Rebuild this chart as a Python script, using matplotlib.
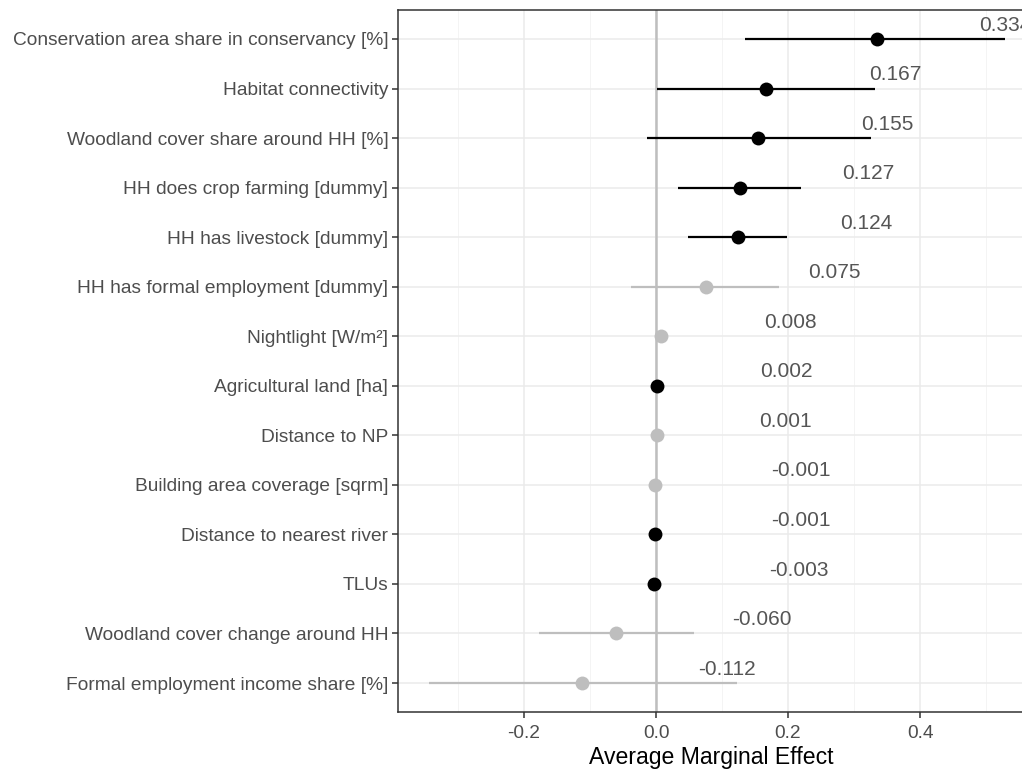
import matplotlib
matplotlib.use("Agg")
import matplotlib.pyplot as plt
from matplotlib.ticker import MultipleLocator

variables = [
    "Conservation area share in conservancy [%]",
    "Habitat connectivity",
    "Woodland cover share around HH [%]",
    "HH does crop farming [dummy]",
    "HH has livestock [dummy]",
    "HH has formal employment [dummy]",
    "Nightlight [W/m\u00b2]",
    "Agricultural land [ha]",
    "Distance to NP",
    "Building area coverage [sqrm]",
    "Distance to nearest river",
    "TLUs",
    "Woodland cover change around HH",
    "Formal employment income share [%]",
]
estimates = [0.334, 0.167, 0.155, 0.127, 0.124, 0.075, 0.008, 0.002, 0.001,
             -0.001, -0.001, -0.003, -0.060, -0.112]
ci_low = [0.135, 0.001, -0.014, 0.033, 0.048, -0.038, 0.006, 0.001, 0.000,
          -0.002, -0.002, -0.004, -0.177, -0.344]
ci_high = [0.529, 0.332, 0.325, 0.220, 0.198, 0.187, 0.010, 0.003, 0.002,
           0.000, 0.000, -0.002, 0.058, 0.123]
significant = [True, True, True, True, True, False, False, True, False,
               False, True, True, False, False]
labels = ["0.334", "0.167", "0.155", "0.127", "0.124", "0.075", "0.008", "0.002",
          "0.001", "-0.001", "-0.001", "-0.003", "-0.060", "-0.112"]

plt.rcParams['font.family'] = ['Liberation Sans', 'DejaVu Sans']

W, H = 1022, 769
fig = plt.figure(figsize=(W / 100, H / 100), dpi=100)
ax = fig.add_axes([398 / W, (H - 712) / H, (1024 - 398) / W, (712 - 10) / H])

n = len(variables)
ypos = [n - 1 - i for i in range(n)]

ax.set_xlim(-0.391, -0.391 + (1024 - 398) / 660.0)
ax.set_ylim(-0.585, n - 1 + 0.585)

ax.xaxis.set_major_locator(MultipleLocator(0.2))
ax.xaxis.set_minor_locator(MultipleLocator(0.1))
ax.grid(True, which='major', color='#EBEBEB', linewidth=1.1, zorder=0)
ax.grid(True, which='minor', axis='x', color='#F2F2F2', linewidth=0.6, zorder=0)
ax.set_axisbelow(True)

ax.axvline(0, color='#BEBEBE', linewidth=1.8, zorder=1)

for y, est, lo, hi, sig, lab in zip(ypos, estimates, ci_low, ci_high, significant, labels):
    col = 'black' if sig else '#BEBEBE'
    ax.plot([lo, hi], [y, y], color=col, linewidth=1.6, zorder=2, solid_capstyle='butt')
    ax.plot([est], [y], 'o', color=col, markersize=10, zorder=3, markeredgewidth=0)
    nudge = 0.195 if est >= 0 else 0.22
    ax.text(est + nudge, y + 0.28, lab, ha='center', va='center', fontsize=15,
            color='#555555', clip_on=False)

ax.set_yticks(ypos)
ax.set_yticklabels(variables)
ax.tick_params(axis='both', which='major', length=4, width=1.1, color='#333333',
               labelcolor='#4D4D4D', labelsize=13.8, pad=3)
ax.tick_params(axis='x', which='major', pad=5)
ax.tick_params(axis='both', which='minor', length=0)
ax.set_xticklabels([f"{v:.1f}" for v in ax.get_xticks()])

for side in ['left', 'bottom', 'top', 'right']:
    ax.spines[side].set_color('#333333')
    ax.spines[side].set_linewidth(1.1)

ax.set_xlabel("Average Marginal Effect", fontsize=16.6, color='black', labelpad=3)

fig.savefig("out.png", dpi=100)
